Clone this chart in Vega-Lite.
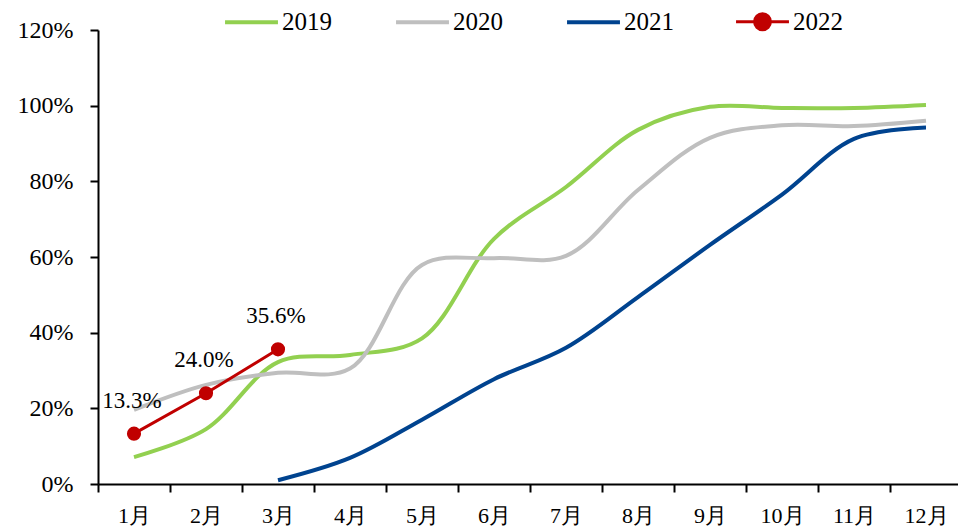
{
  "$schema": "https://vega.github.io/schema/vega-lite/v6.json",
  "width": 864,
  "height": 454,
  "autosize": "none",
  "padding": {"left": 98, "top": 30, "right": 0, "bottom": 48},
  "background": "white",
  "config": {
    "view": {"stroke": null},
    "font": "Liberation Serif"
  },
  "data": {
    "values": [
      {"m": "1月", "year": "2019", "v": 0.071},
      {"m": "2月", "year": "2019", "v": 0.145},
      {"m": "3月", "year": "2019", "v": 0.322},
      {"m": "4月", "year": "2019", "v": 0.341},
      {"m": "5月", "year": "2019", "v": 0.385},
      {"m": "6月", "year": "2019", "v": 0.648},
      {"m": "7月", "year": "2019", "v": 0.785},
      {"m": "8月", "year": "2019", "v": 0.936},
      {"m": "9月", "year": "2019", "v": 0.997},
      {"m": "10月", "year": "2019", "v": 0.994},
      {"m": "11月", "year": "2019", "v": 0.994},
      {"m": "12月", "year": "2019", "v": 1.002},
      {"m": "1月", "year": "2020", "v": 0.196},
      {"m": "2月", "year": "2020", "v": 0.262},
      {"m": "3月", "year": "2020", "v": 0.294},
      {"m": "4月", "year": "2020", "v": 0.305},
      {"m": "5月", "year": "2020", "v": 0.579},
      {"m": "6月", "year": "2020", "v": 0.597},
      {"m": "7月", "year": "2020", "v": 0.603},
      {"m": "8月", "year": "2020", "v": 0.777},
      {"m": "9月", "year": "2020", "v": 0.915},
      {"m": "10月", "year": "2020", "v": 0.948},
      {"m": "11月", "year": "2020", "v": 0.946},
      {"m": "12月", "year": "2020", "v": 0.960},
      {"m": "3月", "year": "2021", "v": 0.010},
      {"m": "4月", "year": "2021", "v": 0.069},
      {"m": "5月", "year": "2021", "v": 0.170},
      {"m": "6月", "year": "2021", "v": 0.277},
      {"m": "7月", "year": "2021", "v": 0.360},
      {"m": "8月", "year": "2021", "v": 0.494},
      {"m": "9月", "year": "2021", "v": 0.632},
      {"m": "10月", "year": "2021", "v": 0.765},
      {"m": "11月", "year": "2021", "v": 0.912},
      {"m": "12月", "year": "2021", "v": 0.942},
      {"m": "1月", "year": "2022", "v": 0.133, "label": "13.3%"},
      {"m": "2月", "year": "2022", "v": 0.240, "label": "24.0%"},
      {"m": "3月", "year": "2022", "v": 0.356, "label": "35.6%"}
    ]
  },
  "encoding": {
    "x": {
      "field": "m",
      "type": "ordinal",
      "sort": ["1月","2月","3月","4月","5月","6月","7月","8月","9月","10月","11月","12月"],
      "scale": {"type": "band", "paddingInner": 0, "paddingOuter": 0, "domain": ["1月","2月","3月","4月","5月","6月","7月","8月","9月","10月","11月","12月"]},
      "axis": {
        "title": null,
        "labelAngle": 0,
        "tickBand": "extent",
        "domainColor": "#000",
        "domainWidth": 2,
        "tickColor": "#000",
        "tickWidth": 2,
        "tickSize": 8,
        "labelFont": "Liberation Serif",
        "labelFontSize": 22,
        "labelColor": "#000",
        "labelPadding": 13,
        "grid": false
      }
    },
    "y": {
      "field": "v",
      "type": "quantitative",
      "scale": {"domain": [0, 1.2], "nice": false},
      "axis": {
        "title": null,
        "values": [0, 0.2, 0.4, 0.6, 0.8, 1.0, 1.2],
        "format": ".0%",
        "grid": false,
        "domainColor": "#000",
        "domainWidth": 2,
        "tickColor": "#000",
        "tickWidth": 2,
        "tickSize": 8,
        "labelFont": "Liberation Serif",
        "labelFontSize": 24,
        "labelColor": "#000",
        "labelPadding": 17
      }
    }
  },
  "layer": [
    {
      "transform": [{"filter": "datum.year !== '2022'"}],
      "mark": {"type": "line", "interpolate": "catmull-rom", "strokeWidth": 4},
      "encoding": {
        "color": {
          "field": "year",
          "type": "nominal",
          "scale": {"domain": ["2019","2020","2021","2022"], "range": ["#92D050","#BFBFBF","#00438F","#C00000"]},
          "legend": {
            "orient": "none",
            "legendX": 141,
            "legendY": -21,
            "direction": "horizontal",
            "columns": 4,
            "title": null,
            "padding": 0,
            "symbolSize": 2800,
            "symbolStrokeWidth": 4,
            "labelFont": "Liberation Serif",
            "labelFontSize": 25,
            "labelColor": "#000",
            "labelOffset": 18,
            "columnPadding": 56,
            "encode": {
              "symbols": {
                "update": {
                  "shape": {"signal": "datum.value === '2022' ? 'M-1,0H-0.3A0.3,0.3 0 1,1 0.3,0A0.3,0.3 0 1,1 -0.3,0M0.3,0H1' : 'M-1,0H1'"},
                  "fill": {"signal": "datum.value === '2022' ? '#C00000' : 'transparent'"},
                  "strokeWidth": {"signal": "datum.value === '2022' ? 3 : 4"}
                }
              }
            }
          }
        }
      }
    },
    {
      "transform": [{"filter": "datum.year === '2022'"}],
      "mark": {"type": "line", "strokeWidth": 3},
      "encoding": {
        "color": {"field": "year", "type": "nominal"}
      }
    },
    {
      "transform": [{"filter": "datum.year === '2022'"}],
      "mark": {"type": "point", "filled": true, "size": 200, "color": "#C00000", "opacity": 1}
    },
    {
      "transform": [{"filter": "datum.year === '2022'"}],
      "mark": {"type": "text", "font": "Liberation Serif", "fontSize": 23, "color": "#000", "dx": -2, "dy": -33, "baseline": "middle", "align": "center"},
      "encoding": {"text": {"field": "label"}}
    }
  ]
}
